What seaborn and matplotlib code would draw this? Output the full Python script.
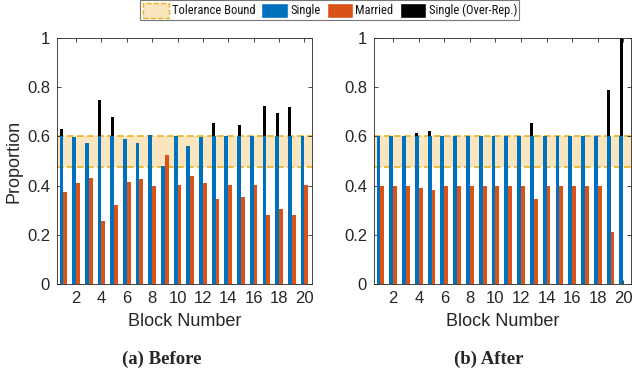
import numpy as np
import matplotlib
matplotlib.use("Agg")
import matplotlib.pyplot as plt
import seaborn as sns
from matplotlib.patches import Patch

blocks = np.arange(1, 21)

# (a) Before
single_before = [0.60, 0.596, 0.574, 0.60, 0.60, 0.588, 0.575, 0.605, 0.478, 0.60,
                 0.563, 0.596, 0.60, 0.60, 0.60, 0.60, 0.60, 0.60, 0.60, 0.60]
married_before = [0.373, 0.41, 0.43, 0.255, 0.323, 0.415, 0.427, 0.398, 0.525, 0.403,
                  0.44, 0.41, 0.347, 0.403, 0.353, 0.403, 0.28, 0.304, 0.281, 0.402]
over_blocks_before = [1, 4, 5, 13, 15, 17, 18, 19]
over_before = [0.631, 0.748, 0.68, 0.654, 0.647, 0.722, 0.697, 0.72]

# (b) After
single_after = [0.60] * 20
married_after = [0.40, 0.40, 0.40, 0.392, 0.381, 0.40, 0.40, 0.40, 0.40, 0.40,
                 0.40, 0.40, 0.347, 0.40, 0.40, 0.40, 0.40, 0.40, 0.212, 0.0]
over_blocks_after = [4, 5, 13, 19, 20]
over_after = [0.613, 0.623, 0.654, 0.79, 1.0]

tol_low, tol_high = 0.475, 0.60

BLUE = "#0072BD"
ORANGE = "#D95319"
GOLD = "#EDB120"
BAND = "#F9E6BE"
INK = "#262626"

sns.set_style("ticks")
plt.rcParams["font.family"] = ["Liberation Sans", "DejaVu Sans"]

fig = plt.figure(figsize=(6.32, 3.76), dpi=100)
ax_a = fig.add_axes([0.0902, 0.2447, 0.4035, 0.654])
ax_b = fig.add_axes([0.5918, 0.2447, 0.4066, 0.654])


def draw_panel(ax, single, married, over_x, over_y):
    ax.axhspan(tol_low, tol_high, color=BAND, zorder=0, lw=0)
    ax.axhline(tol_low, color=GOLD, ls=(0, (4, 2)), lw=1.2, zorder=0.5)
    ax.axhline(tol_high, color=GOLD, ls=(0, (4, 2)), lw=1.2, zorder=0.5)
    bar_kw = dict(native_scale=True, saturation=1, errorbar=None, ax=ax,
                  edgecolor="none", linewidth=0, zorder=2)
    sns.barplot(x=np.array(over_x) - 0.15, y=over_y, width=0.24, color="black", **bar_kw)
    sns.barplot(x=blocks - 0.15, y=single, width=0.3, color=BLUE, **bar_kw)
    sns.barplot(x=blocks + 0.15, y=married, width=0.3, color=ORANGE, **bar_kw)
    ax.set_xlim(0.5, 20.6)
    ax.set_ylim(0, 1)
    ax.set_xticks(np.arange(2, 21, 2))
    ax.set_xticklabels([str(v) for v in range(2, 21, 2)])
    ax.set_yticks([0, 0.2, 0.4, 0.6, 0.8, 1])
    ax.set_yticklabels(["0", "0.2", "0.4", "0.6", "0.8", "1"])
    ax.tick_params(direction="in", top=True, right=True, length=3, width=0.6,
                   labelsize=12, colors=INK, pad=5)
    for s in ax.spines.values():
        s.set_visible(True)
        s.set_color(INK)
        s.set_linewidth(0.6)
    ax.set_xlabel("Block Number", fontsize=13, color=INK, va="center")
    ax.xaxis.set_label_coords(0.5, -38 / 246)
    ax.set_ylabel("")


draw_panel(ax_a, single_before, married_before, over_blocks_before, over_before)
draw_panel(ax_b, single_after, married_after, over_blocks_after, over_after)
ax_a.set_ylabel("Proportion", fontsize=13, color=INK, va="center")
ax_a.yaxis.set_label_coords(-43 / 255, 0.5)

fig.text(162 / 632, 0.045, "(a) Before", ha="center", va="center", fontsize=13.5,
         fontweight="bold", family="Liberation Serif")
fig.text(489 / 632, 0.045, "(b) After", ha="center", va="center", fontsize=13.5,
         fontweight="bold", family="Liberation Serif")

handles = [
    Patch(facecolor=BAND, edgecolor=GOLD, linestyle="--", linewidth=1.0, label="Tolerance Bound"),
    Patch(facecolor=BLUE, label="Single"),
    Patch(facecolor=ORANGE, label="Married"),
    Patch(facecolor="black", label="Single (Over-Rep.)"),
]
leg = fig.legend(handles=handles, loc="upper center", bbox_to_anchor=(0.522, 1.0),
                 ncol=4, frameon=True, handlelength=2.1, handleheight=1.5,
                 handletextpad=0.2, columnspacing=0.5, borderpad=0.2,
                 borderaxespad=0.0, fancybox=False,
                 prop={"family": ["Roboto Condensed", "Liberation Sans"], "size": 9})
leg.get_frame().set_edgecolor("#555555")
leg.get_frame().set_linewidth(0.8)
for t in leg.get_texts():
    t.set_color("#111111")

fig.savefig("out.png", dpi=100)
